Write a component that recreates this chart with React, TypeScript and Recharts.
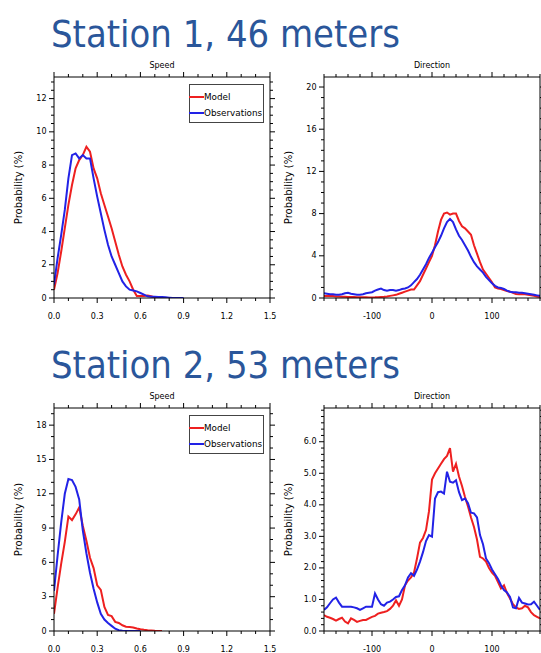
import React from "react";
import { LineChart, Line, XAxis, YAxis, Legend } from "recharts";

// ---- data ----
const speedBins = [
  0, 0.025, 0.05, 0.075, 0.1, 0.125, 0.15, 0.175, 0.2, 0.225, 0.25, 0.275, 0.3,
  0.325, 0.35, 0.375, 0.4, 0.425, 0.45, 0.475, 0.5, 0.525, 0.55, 0.575, 0.6,
  0.625, 0.65, 0.675, 0.7, 0.725, 0.75, 0.775, 0.8, 0.825, 0.85, 0.875, 0.9,
];
const speedModel1 = [
  0.5, 1.5, 2.8, 4.2, 5.6, 6.8, 7.8, 8.3, 8.6, 9.1, 8.8, 7.8, 7.2, 6.3, 5.6, 4.9,
  4.2, 3.4, 2.6, 1.9, 1.4, 1.0, 0.5, 0.12, 0.12, 0.12, 0.15, 0.1, 0.03, 0,
  null, null, null, null, null, null, null,
];
const speedObs1 = [
  0.8, 2.4, 3.8, 5.3, 7.2, 8.6, 8.7, 8.4, 8.6, 8.4, 8.4, 7.2, 6.1, 5.1, 4.1, 3.2,
  2.5, 2.0, 1.5, 1.0, 0.7, 0.5, 0.45, 0.4, 0.3, 0.2, 0.1, 0.08, 0.07, 0.06, 0.06,
  0.04, 0.02, 0, 0, 0, 0,
];
const speedModel2 = [
  1.5, 3.8, 5.9, 7.8, 10.0, 9.7, 10.2, 10.8, 9.2, 7.9, 6.4, 5.5, 4.0, 3.6, 2.1,
  1.4, 1.3, 0.8, 0.7, 0.5, 0.38, 0.34, 0.3, 0.22, 0.15, 0.1, 0.06, 0.04, 0.02,
  0.01, 0, null, null, null, null, null, null,
];
const speedObs2 = [
  3.5, 6.6, 9.5, 12.0, 13.3, 13.2, 12.6, 11.5, 8.8, 6.8, 5.1, 3.7, 2.5, 1.5, 1.0,
  0.7, 0.45, 0.2, 0.07, 0.02, 0, 0, 0, 0, 0,
  null, null, null, null, null, null, null, null, null, null, null, null,
];

const dirBins = [
  -180, -175, -170, -165, -160, -155, -150, -145, -140, -135,
  -130, -125, -120, -115, -110, -105, -100, -95, -90, -85,
  -80, -75, -70, -65, -60, -55, -50, -45, -40, -35,
  -30, -25, -20, -15, -10, -5, 0, 5, 10, 15,
  20, 25, 30, 35, 40, 45, 50, 55, 60, 65,
  70, 75, 80, 85, 90, 95, 100, 105, 110, 115,
  120, 125, 130, 135, 140, 145, 150, 155, 160, 165,
  170, 175, 180,
];
const dirModel1 = [
  0.2, 0.2, 0.2, 0.18, 0.15, 0.15, 0.12, 0.12, 0.1, 0.1,
  0.1, 0.08, 0.08, 0.06, 0.06, 0.05, 0.05, 0.06, 0.08, 0.1,
  0.12, 0.15, 0.2, 0.25, 0.3, 0.4, 0.5, 0.6, 0.7, 0.8,
  0.8, 1.2, 1.6, 2.2, 2.8, 3.4, 4.0, 5.0, 6.3, 7.4,
  8.0, 8.1, 7.9, 8.0, 8.0, 7.3, 6.8, 6.6, 6.3, 6.0,
  5.0, 4.2, 3.4, 2.7, 2.3, 1.9, 1.5, 1.0, 0.9, 0.85,
  0.75, 0.65, 0.6, 0.5, 0.38, 0.35, 0.38, 0.35, 0.3, 0.25,
  0.2, 0.15, 0.1,
];
const dirObs1 = [
  0.45, 0.4, 0.35, 0.35, 0.3, 0.3, 0.35, 0.45, 0.5, 0.4,
  0.35, 0.3, 0.3, 0.35, 0.45, 0.5, 0.55, 0.7, 0.8, 0.9,
  0.75, 0.7, 0.75, 0.75, 0.7, 0.75, 0.85, 0.9, 1.0, 1.2,
  1.5, 1.8, 2.2, 2.7, 3.2, 3.8, 4.3, 4.8, 5.3, 5.9,
  6.6, 7.2, 7.5, 7.2, 6.5, 5.9, 5.5, 5.0, 4.5, 3.9,
  3.4, 3.0, 2.7, 2.4, 2.0, 1.7, 1.4, 1.15, 1.0, 0.95,
  0.85, 0.7, 0.6, 0.55, 0.55, 0.5, 0.5, 0.45, 0.4, 0.35,
  0.3, 0.25, 0.2,
];
const dirModel2 = [
  0.5, 0.45, 0.42, 0.38, 0.33, 0.38, 0.42, 0.3, 0.24, 0.4,
  0.35, 0.29, 0.32, 0.35, 0.35, 0.4, 0.45, 0.48, 0.55, 0.58,
  0.6, 0.63, 0.7, 0.8, 0.97, 0.8, 1.0, 1.45, 1.6, 1.7,
  1.85, 2.3, 2.8, 2.95, 3.2, 3.8, 4.8, 5.0, 5.15, 5.3,
  5.45, 5.55, 5.8, 5.05, 5.3, 4.9, 4.6, 4.25, 3.95, 3.6,
  3.3, 2.9, 2.35, 2.3, 2.2, 2.0, 1.85, 1.75, 1.55, 1.35,
  1.45, 1.2, 1.03, 0.85, 0.75, 0.7, 0.72, 0.8, 0.75, 0.6,
  0.5, 0.45, 0.4,
];
const dirObs2 = [
  0.67, 0.75, 0.88, 1.0, 1.06, 0.9, 0.77, 0.77, 0.77, 0.77,
  0.75, 0.72, 0.67, 0.72, 0.77, 0.77, 0.77, 1.19, 1.0, 0.85,
  0.8, 0.9, 0.93, 1.0, 1.08, 1.1, 1.3, 1.45, 1.7, 1.83,
  1.75, 1.95, 2.2, 2.5, 2.85, 3.04, 2.99, 4.2, 4.4, 4.42,
  4.36, 5.05, 4.73, 4.7, 4.78, 4.4, 4.15, 4.2, 4.05, 3.75,
  3.73, 3.6, 3.04, 2.75, 2.3, 2.15, 1.95, 1.8, 1.65, 1.45,
  1.3, 1.22, 1.08, 0.75, 0.72, 1.05, 0.9, 0.87, 0.84, 0.85,
  0.93, 0.8, 0.67,
];

// major (labelled) ticks
const speedMajor = [0, 0.3, 0.6, 0.9, 1.2, 1.5];
const dirMajor = [-100, 0, 100];
const probMajor1 = [0, 2, 4, 6, 8, 10, 12];
const probMajor2 = [0, 4, 8, 12, 16, 20];
const probMajor3 = [0, 3, 6, 9, 12, 15, 18];
const probMajor4 = [0, 1, 2, 3, 4, 5, 6];

const titles = ["Station 1, 46 meters", "Station 2, 53 meters"];

const RED = "#ee2020";
const BLUE = "#2222e6";
const FONT = "'DejaVu Sans', Verdana, sans-serif";

const steps = (a: number, b: number, step: number) => {
  const out: number[] = [];
  const n = Math.round((b - a) / step);
  for (let i = 0; i <= n; i++) out.push(+(a + i * step).toFixed(4));
  return out;
};

const rows = (bins: number[], model: (number | null)[], obs: (number | null)[]) =>
  bins.map((x, i) => ({ x, model: model[i], obs: obs[i] }));

function Tick(props: any) {
  const { x, y, payload, side, majors, fmt } = props;
  const v = payload.value;
  const major = majors.some((m: number) => Math.abs(m - v) < 1e-6);
  const len = major ? 5 : 3;
  let line;
  let label = null;
  if (side === "bottom") {
    line = <line x1={x} y1={y} x2={x} y2={y + len} stroke="#000" />;
    if (major)
      label = (
        <text x={x} y={y + 18} textAnchor="middle" dominantBaseline="central" fontSize={8} fontFamily={FONT} fill="#000">
          {fmt(v)}
        </text>
      );
  } else if (side === "top") {
    line = <line x1={x} y1={y} x2={x} y2={y - len} stroke="#000" />;
  } else if (side === "left") {
    line = <line x1={x} y1={y} x2={x - len} y2={y} stroke="#000" />;
    if (major)
      label = (
        <text x={x - 7.5} y={y} textAnchor="end" dominantBaseline="central" fontSize={8} fontFamily={FONT} fill="#000">
          {fmt(v)}
        </text>
      );
  } else {
    line = <line x1={x} y1={y} x2={x + len} y2={y} stroke="#000" />;
  }
  return (
    <g>
      {line}
      {label}
    </g>
  );
}

function LegendBox({ payload }: any) {
  return (
    <div
      style={{
        width: 75,
        height: 39,
        border: "1px solid #444",
        background: "#fff",
        boxSizing: "border-box",
        position: "relative",
        fontFamily: FONT,
        fontSize: 8.8,
        color: "#000",
      }}
    >
      {(payload || []).map((e: any, i: number) => (
        <div
          key={e.value}
          style={{ position: "absolute", left: -1, top: 5 + i * 16, height: 14, display: "flex", alignItems: "center", whiteSpace: "nowrap" }}
        >
          <span style={{ display: "inline-block", width: 15, height: 2, background: e.color }} />
          <span>{e.value}</span>
        </div>
      ))}
    </div>
  );
}

interface PanelProps {
  left: number;
  top: number;
  w: number;
  h: number;
  topH: number;
  bottomH: number;
  rightW: number;
  data: any[];
  xDomain: [number, number];
  xTicks: number[];
  xMajor: number[];
  xFmt: (v: number) => string;
  yDomain: [number, number];
  yTicks: number[];
  yMajor: number[];
  yFmt: (v: number) => string;
  title: string;
  legend?: boolean;
}

function Panel(p: PanelProps) {
  const plotLeft = 54;
  const plotH = p.h - p.topH - p.bottomH;
  const plotW = p.w - plotLeft - p.rightW;
  const axisLine = { stroke: "#000", strokeWidth: 1 };
  return (
    <div style={{ position: "absolute", left: p.left, top: p.top }}>
      <LineChart width={p.w} height={p.h} data={p.data} margin={{ top: 0, right: 0, bottom: 0, left: 0 }}>
        <XAxis
          xAxisId="b"
          dataKey="x"
          type="number"
          domain={p.xDomain}
          ticks={p.xTicks}
          interval={0}
          height={p.bottomH}
          tickSize={0}
          tickMargin={0}
          tickLine={false}
          axisLine={axisLine}
          allowDataOverflow
          tick={(t: any) => <Tick {...t} side="bottom" majors={p.xMajor} fmt={p.xFmt} />}
        />
        <XAxis
          xAxisId="t"
          orientation="top"
          dataKey="x"
          type="number"
          domain={p.xDomain}
          ticks={p.xTicks}
          interval={0}
          height={p.topH}
          tickSize={0}
          tickMargin={0}
          tickLine={false}
          axisLine={axisLine}
          allowDataOverflow
          tick={(t: any) => <Tick {...t} side="top" majors={p.xMajor} fmt={p.xFmt} />}
          label={() => (
            <text
              x={plotLeft + plotW / 2}
              y={p.topH - 11.5}
              textAnchor="middle"
              dominantBaseline="central"
              fontSize={8}
              fontFamily={FONT}
              fill="#000"
            >
              {p.title}
            </text>
          )}
        />
        <YAxis
          yAxisId="l"
          type="number"
          domain={p.yDomain}
          ticks={p.yTicks}
          interval={0}
          width={plotLeft}
          tickSize={0}
          tickMargin={0}
          tickLine={false}
          axisLine={axisLine}
          allowDataOverflow
          tick={(t: any) => <Tick {...t} side="left" majors={p.yMajor} fmt={p.yFmt} />}
          label={() => {
            const cx = plotLeft - 36;
            const cy = p.topH + plotH / 2;
            return (
              <text
                x={cx}
                y={cy}
                transform={`rotate(-90 ${cx} ${cy})`}
                textAnchor="middle"
                dominantBaseline="central"
                fontSize={10}
                fontFamily={FONT}
                fill="#000"
              >
                Probability (%)
              </text>
            );
          }}
        />
        <YAxis
          yAxisId="r"
          orientation="right"
          type="number"
          domain={p.yDomain}
          ticks={p.yTicks}
          interval={0}
          width={p.rightW}
          tickSize={0}
          tickMargin={0}
          tickLine={false}
          axisLine={axisLine}
          allowDataOverflow
          tick={(t: any) => <Tick {...t} side="right" majors={p.yMajor} fmt={p.yFmt} />}
        />
        {p.legend && (
          <Legend
            layout="vertical"
            align="center"
            verticalAlign="middle"
            wrapperStyle={{ left: plotLeft + 135, top: p.topH + 7, width: 75, height: 39 }}
            content={(lp: any) => <LegendBox payload={lp.payload} />}
          />
        )}
        <Line
          xAxisId="b"
          yAxisId="l"
          dataKey="model"
          name="Model"
          type="linear"
          stroke={RED}
          strokeWidth={2}
          dot={false}
          activeDot={false}
          isAnimationActive={false}
        />
        <Line
          xAxisId="b"
          yAxisId="l"
          dataKey="obs"
          name="Observations"
          type="linear"
          stroke={BLUE}
          strokeWidth={2}
          dot={false}
          activeDot={false}
          isAnimationActive={false}
        />
      </LineChart>
    </div>
  );
}

export default function App() {
  const speedTicks = steps(0, 1.5, 0.1);
  const dirTicks = steps(-180, 180, 20);
  const fmt1 = (v: number) => v.toFixed(1);
  const fmt0 = (v: number) => String(Math.round(v));
  const titleStyle = {
    fontFamily: "'DejaVu Sans Condensed', 'DejaVu Sans', sans-serif",
    fontSize: 38,
    fill: "#2a569a",
  };
  return (
    <div style={{ position: "absolute", left: 0, top: 0, width: 541, height: 653, background: "#fff", overflow: "hidden" }}>
      <svg width={541} height={653} style={{ position: "absolute", left: 0, top: 0 }}>
        <text x={51} y={47} textLength={349} lengthAdjust="spacingAndGlyphs" {...titleStyle}>
          {titles[0]}
        </text>
        <text x={51} y={378} textLength={349} lengthAdjust="spacingAndGlyphs" {...titleStyle}>
          {titles[1]}
        </text>
      </svg>
      <Panel
        left={0} top={55} w={280} h={280} topH={22} bottomH={37} rightW={10}
        data={rows(speedBins, speedModel1, speedObs1)}
        xDomain={[0, 1.5]} xTicks={speedTicks} xMajor={speedMajor} xFmt={fmt1}
        yDomain={[0, 13.3]} yTicks={steps(0, 13, 0.5)} yMajor={probMajor1} yFmt={fmt0}
        title="Speed" legend
      />
      <Panel
        left={270} top={55} w={271} h={280} topH={22} bottomH={37} rightW={1}
        data={rows(dirBins, dirModel1, dirObs1)}
        xDomain={[-180, 180]} xTicks={dirTicks} xMajor={dirMajor} xFmt={fmt0}
        yDomain={[0, 20.95]} yTicks={steps(0, 20, 1)} yMajor={probMajor2} yFmt={fmt0}
        title="Direction"
      />
      <Panel
        left={0} top={386} w={280} h={267} topH={22} bottomH={22} rightW={10}
        data={rows(speedBins, speedModel2, speedObs2)}
        xDomain={[0, 1.5]} xTicks={speedTicks} xMajor={speedMajor} xFmt={fmt1}
        yDomain={[0, 19.5]} yTicks={steps(0, 19, 1)} yMajor={probMajor3} yFmt={fmt0}
        title="Speed" legend
      />
      <Panel
        left={270} top={386} w={271} h={267} topH={22} bottomH={22} rightW={1}
        data={rows(dirBins, dirModel2, dirObs2)}
        xDomain={[-180, 180]} xTicks={dirTicks} xMajor={dirMajor} xFmt={fmt0}
        yDomain={[0, 7.07]} yTicks={steps(0, 7, 0.2)} yMajor={probMajor4} yFmt={fmt1}
        title="Direction"
      />
    </div>
  );
}
